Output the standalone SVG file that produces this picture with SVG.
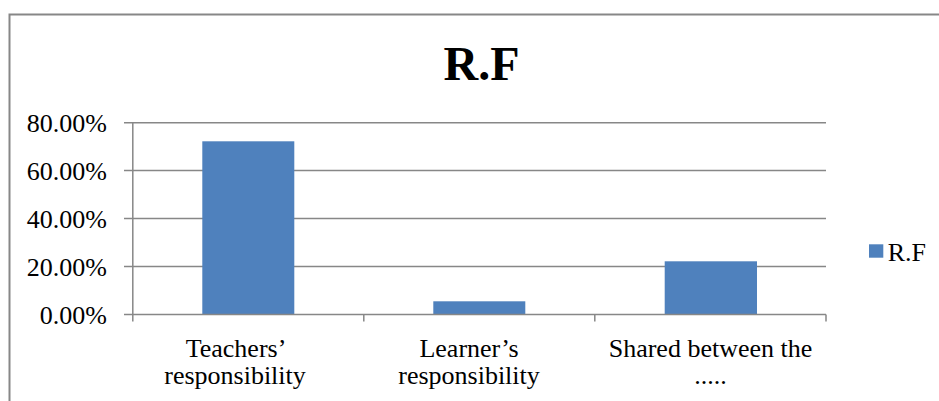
<svg xmlns="http://www.w3.org/2000/svg" width="939" height="401" viewBox="0 0 939 401">
<style>
.frame{fill:none;stroke:#878787;stroke-width:2}
.grid{stroke:#878787;stroke-width:1.5;fill:none}
.bar{fill:#4F81BD}
text{font-family:"Liberation Serif","Times New Roman",serif;fill:#000}
.tick{font-size:26px;text-anchor:end}
.cat{font-size:26px;text-anchor:middle}
.title{font-size:48px;font-weight:bold;text-anchor:middle}
.leg{font-size:26px}
</style>
<rect width="939" height="401" fill="#fff"/>
<path class="frame" d="M9.5,401 V14.5 H939"/>
<g id="title"><text class="title" x="481.5" y="79.5">R.F</text></g>
<g id="gridlines">
<path class="grid" d="M124,122.7 H826 M124,170.6 H826 M124,218.6 H826 M124,266.5 H826"/>
</g>
<g id="bars">
<rect id="bar-teachers" class="bar" x="202.3" y="141.3" width="92" height="173.2"/>
<rect id="bar-learners" class="bar" x="433.3" y="301.3" width="92" height="13.2"/>
<rect id="bar-shared" class="bar" x="664.7" y="261.3" width="92.3" height="53.2"/>
</g>
<g id="axes">
<path class="grid" d="M124,314.5 H826 M132.8,122.7 V321.5 M363.8,314.5 V321.5 M594.8,314.5 V321.5 M826,314.5 V321.5"/>
</g>
<g id="y-labels">
<text class="tick" x="107" y="132.3">80.00%</text>
<text class="tick" x="107" y="180.3">60.00%</text>
<text class="tick" x="107" y="228.3">40.00%</text>
<text class="tick" x="107" y="276.2">20.00%</text>
<text class="tick" x="107" y="324.2">0.00%</text>
</g>
<g id="x-labels">
<text class="cat" x="236" y="356.5">Teachers’</text>
<text class="cat" x="235" y="384">responsibility</text>
<text class="cat" x="469" y="356.5">Learner’s</text>
<text class="cat" x="469" y="384">responsibility</text>
<text class="cat" x="710.5" y="356.5">Shared between the</text>
<text class="cat" x="710.5" y="384">.....</text>
</g>
<g id="legend">
<rect class="bar" x="869" y="244.3" width="14.3" height="13.4"/>
<text class="leg" x="887.7" y="260.7">R.F</text>
</g>
</svg>
